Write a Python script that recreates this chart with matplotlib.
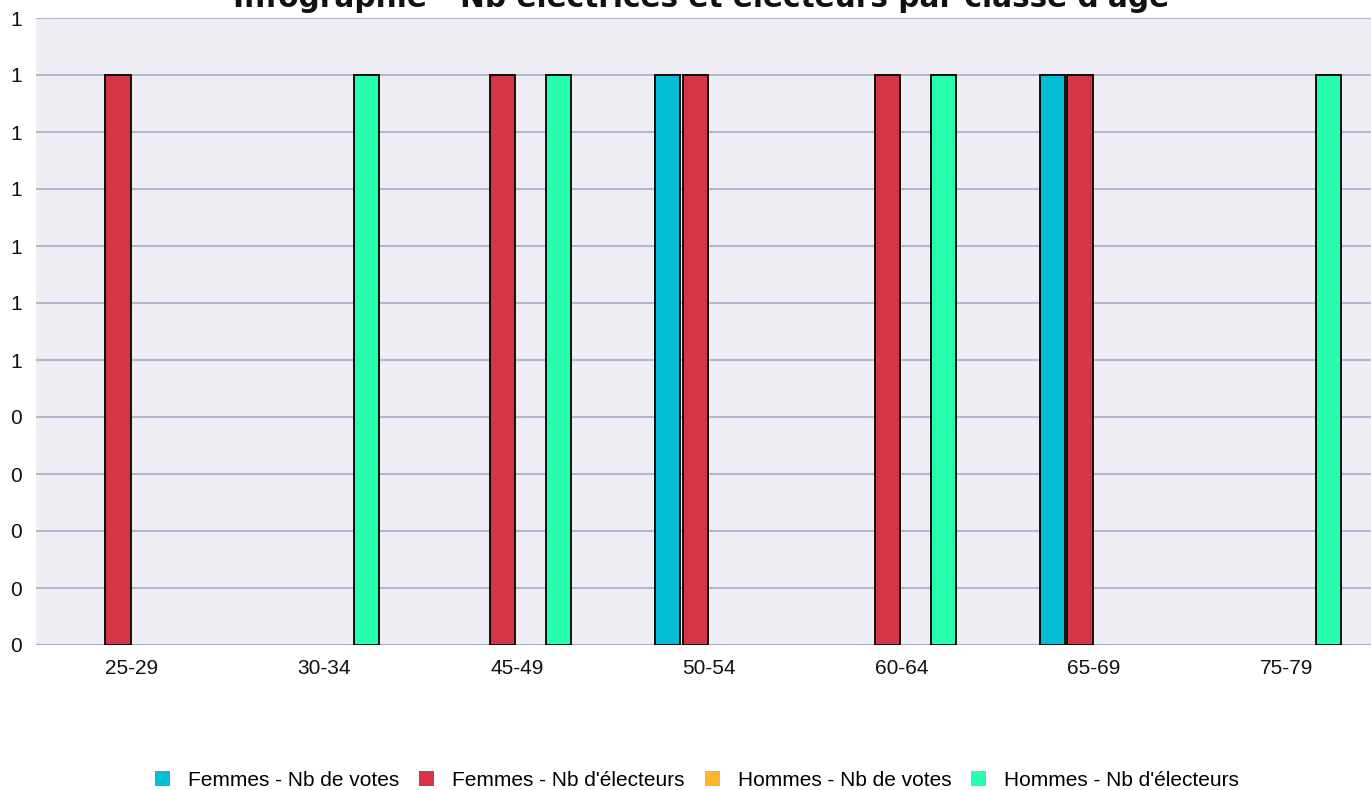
import math
import matplotlib
matplotlib.use("Agg")
import matplotlib.pyplot as plt
import numpy as np
from matplotlib.patches import Patch

categories = ["25-29", "30-34", "45-49", "50-54", "60-64", "65-69", "75-79"]
series_names = ["Femmes - Nb de votes", "Femmes - Nb d'électeurs",
                "Hommes - Nb de votes", "Hommes - Nb d'électeurs"]
femmes_votes = [0, 0, 0, 1, 0, 1, 0]
femmes_electeurs = [1, 0, 1, 1, 1, 1, 0]
hommes_votes = [0, 0, 0, 0, 0, 0, 0]
hommes_electeurs = [0, 1, 1, 0, 1, 0, 1]
colors = ["#06BED5", "#D63447", "#FDB32B", "#27FEAB"]
title = "Infographie - Nb électrices et électeurs par classe d'âge"
yticks = [0.0, 0.1, 0.2, 0.3, 0.4, 0.5, 0.6, 0.7, 0.8, 0.9, 1.0, 1.1]

W, H = 1371, 790
fig = plt.figure(figsize=(W / 100, H / 100), dpi=100)
fig.patch.set_facecolor("white")
left_px, right_px, top_px, bot_px = 35.8, 1382.6, 18, 645
ax = fig.add_axes([left_px / W, (H - bot_px) / H, (right_px - left_px) / W, (bot_px - top_px) / H])
ax.set_facecolor("#EFEEF4")

x = np.arange(len(categories))
pitch = 0.1455
width = 0.13
data = [femmes_votes, femmes_electeurs, hommes_votes, hommes_electeurs]
for i, (vals, col) in enumerate(zip(data, colors)):
    off = (i - 1.5) * pitch
    v = np.array(vals, dtype=float)
    mask = v > 0
    ax.bar(x[mask] + off, v[mask], width=width, color=col, edgecolor="black",
           linewidth=1.3, zorder=3)

ax.set_xlim(-0.5, len(categories) - 0.5)
ax.set_ylim(0, 1.1)
ax.set_yticks(yticks)
ax.set_yticklabels([str(int(math.floor(t + 0.5 + 1e-9))) for t in yticks])
ax.set_xticks(x)
ax.set_xticklabels(categories)
for t in yticks:
    ax.axhline(t, color="#B7B6CF", linewidth=1.5, zorder=1)
ax.axhline(0, color="#A9A8C2", linewidth=2, zorder=2)
for s in ax.spines.values():
    s.set_visible(False)
ax.tick_params(axis="both", length=0, labelsize=15, labelcolor="#111111")
ax.tick_params(axis="y", pad=10)
ax.tick_params(axis="x", pad=10)
for lab in ax.get_xticklabels() + ax.get_yticklabels():
    lab.set_fontfamily("Liberation Sans")

fig.text(701 / W, (H - 7) / H, title, ha="center", va="baseline",
         fontsize=21.3, fontweight="bold", family="DejaVu Sans", color="#111111")

handles = [Patch(facecolor=c, edgecolor="none") for c in colors]
leg = fig.legend(handles, series_names, loc="center", bbox_to_anchor=(697 / W, (H - 780) / H),
                 ncol=4, frameon=False, prop={"family": "Liberation Sans", "size": 15},
                 handlelength=0.72, handleheight=0.72, handletextpad=0.87, columnspacing=0.96,
                 borderpad=0)

fig.savefig("out.png", dpi=100)
